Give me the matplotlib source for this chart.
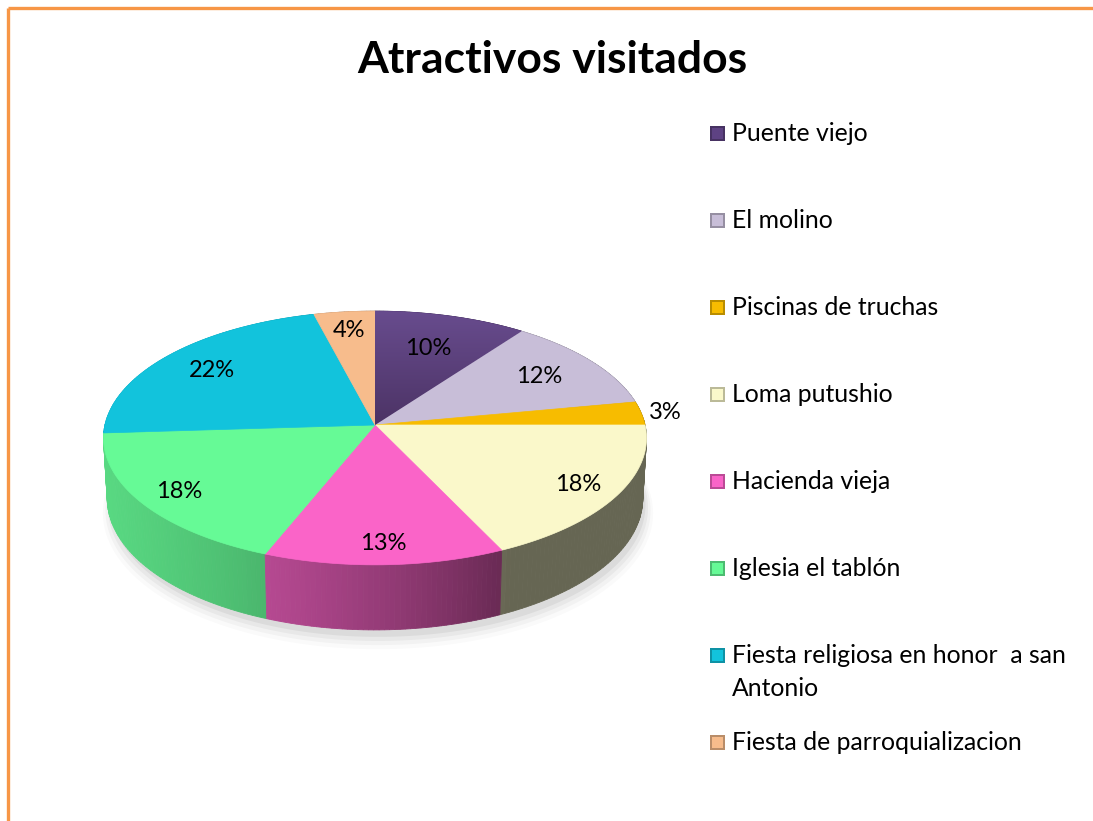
import numpy as np
import matplotlib
matplotlib.use('Agg')
import matplotlib.pyplot as plt
from matplotlib.patches import Polygon, Rectangle
from matplotlib.colors import to_rgb, LinearSegmentedColormap

# Atractivos visitados - share of visitors per attraction
labels = ['Puente viejo', 'El molino', 'Piscinas de truchas', 'Loma putushio',
          'Hacienda vieja', 'Iglesia el tablón',
          'Fiesta religiosa en honor  a san\nAntonio',
          'Fiesta de parroquializacion']
percentages = [10, 12, 3, 18, 13, 18, 22, 4]
colors = ['#5E4283', '#C8BED8', '#F7BC00', '#FAF8CA',
          '#FA64C8', '#66FA96', '#12C3DC', '#F7BC8C']

# label distance from the centre, as a fraction of the radius
label_r = [0.68, 0.75, 1.09, 0.85, 0.86, 0.85, 0.78, 0.82]

# ── 3D pie projection (screen pixels) ───────────────────────
CX, CY = 375, 425
F, D = 2336.0, 8.65
ELEV = np.radians(27.7)
DEPTH = 0.256


def project(theta, r=1.0, z=0.0):
    # theta runs clockwise from the back of the pie
    x = r * np.sin(theta)
    y = r * np.cos(theta)
    d = D + y * np.cos(ELEV) - z * np.sin(ELEV)
    X = CX + F * x / d
    Y = CY - F * (y * np.sin(ELEV) + z * np.cos(ELEV)) / d
    return X, Y


def wall_shade(s):
    return np.clip(0.605 - 0.38 * s - 0.115 * s ** 2, 0.41, 0.9)


fig = plt.figure(figsize=(10.93, 8.21), dpi=100)
ax = fig.add_axes([0, 0, 1, 1])
ax.set_xlim(0, 1093)
ax.set_ylim(821, 0)
ax.axis('off')

font = ['Lato', 'DejaVu Sans']

frac = np.array(percentages, dtype=float) / sum(percentages)
edges = np.concatenate([[0], np.cumsum(frac)]) * 2 * np.pi

# soft shadow under the pie
for k, a in enumerate([0.05, 0.04, 0.03, 0.02]):
    t = np.linspace(0, 2 * np.pi, 200)
    sx, sy = project(t, 1.0 + 0.01 * k, -DEPTH - 0.02 - 0.01 * k)
    ax.add_patch(Polygon(np.column_stack([sx + 3, sy + 2]), closed=True,
                         facecolor='black', edgecolor='none', alpha=a))

# outer walls, drawn back to front
strips = []
for i in range(len(percentages)):
    n = max(2, int(np.degrees(edges[i + 1] - edges[i])))
    ts = np.linspace(edges[i], edges[i + 1], n + 1)
    for t0, t1 in zip(ts[:-1], ts[1:]):
        strips.append((np.cos((t0 + t1) / 2), i, t0, t1))
strips.sort(key=lambda s: -s[0])
for _, i, t0, t1 in strips:
    tm = (t0 + t1) / 2
    c = np.array(to_rgb(colors[i])) * wall_shade(np.sin(tm))
    x0, y0 = project(t0)
    x1, y1 = project(t1)
    x2, y2 = project(t1, z=-DEPTH)
    x3, y3 = project(t0, z=-DEPTH)
    ax.add_patch(Polygon([[x0, y0], [x1, y1], [x2, y2], [x3, y3]], closed=True,
                         facecolor=c, edgecolor=c, linewidth=0.6))

# top faces
for i in range(len(percentages)):
    t = np.linspace(edges[i], edges[i + 1], 120)
    px, py = project(t)
    pts = np.vstack([[CX, CY], np.column_stack([px, py])])
    face = Polygon(pts, closed=True, facecolor=colors[i],
                   edgecolor=colors[i], linewidth=0.5)
    ax.add_patch(face)
    if i == 0:
        # the first slice fades to a darker purple towards the centre
        cmap = LinearSegmentedColormap.from_list('pv', ['#684C8E', '#4C3365'])
        grad = np.linspace(0, 1, 256).reshape(-1, 1)
        y0, y1 = pts[:, 1].min(), pts[:, 1].max()
        x0, x1 = pts[:, 0].min(), pts[:, 0].max()
        im = ax.imshow(grad, cmap=cmap, aspect='auto',
                       extent=[x0, x1, y1, y0], zorder=1.5)
        im.set_clip_path(face)
        ax.set_xlim(0, 1093)
        ax.set_ylim(821, 0)

# percentage labels
for i, p in enumerate(percentages):
    tm = (edges[i] + edges[i + 1]) / 2
    lx, ly = project(tm, label_r[i])
    ax.text(lx, ly, f'{p}%', ha='center', va='center', fontsize=17,
            family=font, color='black', zorder=3)

# title
ax.text(552, 60, 'Atractivos visitados', ha='center', va='center',
        fontsize=32, fontweight='bold', family=font)

# legend
for i, lab in enumerate(labels):
    y = 133 + i * 87
    base = np.array(to_rgb(colors[i]))
    ax.add_patch(Rectangle((710, y - 7), 15, 15, facecolor=base * 0.75,
                           edgecolor='none'))
    ax.add_patch(Rectangle((712, y - 5), 11, 11, facecolor=base,
                           edgecolor='none'))
    for k, line in enumerate(lab.split('\n')):
        ax.text(732, y + 8 + 33 * k, line, ha='left', va='baseline',
                fontsize=17.8, family=font)

# orange chart border
ax.plot([8, 8], [821, 8], color='#F79646', lw=2.4, solid_capstyle='butt')
ax.plot([8, 1093], [8, 8], color='#F79646', lw=2.4, solid_capstyle='butt')

plt.savefig('out.png', dpi=100)
plt.close()
